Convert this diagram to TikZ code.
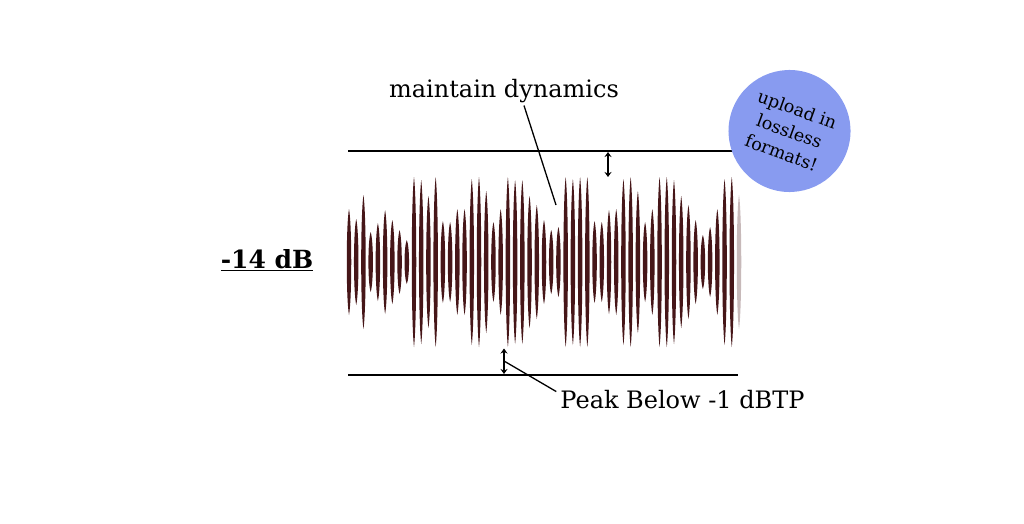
\documentclass[tikz,border=0pt]{standalone}
\usepackage{fontspec}
\setmainfont{DejaVu Serif}
\usetikzlibrary{arrows.meta}

\definecolor{wave}{RGB}{70,22,24}
\definecolor{bubble}{RGB}{136,155,240}

% one lens shaped peak of the waveform: x, half height
\newcommand{\wavespike}[2]{%
    \fill (#1,262-#2) .. controls (#1+3,262-0.7*#2) and (#1+3,262+0.7*#2) .. (#1,262+#2)
        .. controls (#1-3,262+0.7*#2) and (#1-3,262-0.7*#2) .. cycle;}

\begin{document}
\begin{tikzpicture}[x=1pt,y=-1pt]
    \useasboundingbox (0,0) rectangle (1024,524);
    \begin{scope}[every node/.style={inner sep=0pt}]
        \coordinate (tl) at (348,151);
        \coordinate (tr) at (740,151);
        \coordinate (bl) at (348,375);
        \coordinate (br) at (738,375);
        \coordinate (ta1) at (608,152);
        \coordinate (ta2) at (608,177);
        \coordinate (ba1) at (504,348.5);
        \coordinate (ba2) at (504,374);
        \coordinate (bmid) at (504,361);
        \coordinate (dynpt) at (556,205);
    \end{scope}
    % waveform
    \begin{scope}[fill=wave]
        \foreach \h [count=\i from 0] in {53,43,67,30,39,52,42,32,22,85,82,66,85,41,40,53,53,83,85,71,
            40,53,85,82,82,66,57,42,32,35,85,83,85,85,41,40,52,53,83,85,71,40,53,85,85,82,66,57,42,27,
            35,53,83,85}
            {\pgfmathsetmacro{\x}{349+7.222*\i}\wavespike{\x}{\h}}
        \begin{scope}[fill opacity=0.3]
            \wavespike{739}{67}
        \end{scope}
    \end{scope}
    \begin{scope}[line width=1.3pt,>={Stealth[length=5pt,width=7pt]}]
        \draw (tl) -- (tr);
        \draw (bl) -- (br);
        \draw [<->] (ta1) -- (ta2);
        \draw [<->] (ba1) -- (ba2);
    \end{scope}
    \begin{scope}[every node/.style={font=\fontsize{24}{28}\selectfont,inner sep=2pt}]
        \node[anchor=base] (dyn) at (504,98) {maintain dynamics};
        \node[anchor=base] (peak) at (682.5,408) {Peak Below -1 dBTP};
        \node[anchor=base,font=\fontsize{25}{28}\selectfont\bfseries] (level) at (267,268) {\underline{-14 dB}};
        \node[circle,fill=bubble,minimum size=122pt,inner sep=0pt,rotate=-20,align=center,
            font=\fontsize{17.5}{23}\selectfont] (lossless) at (789.5,131) {upload in\\lossless\\formats!};
    \end{scope}
    \draw[line width=1.3pt] ([xshift=20pt]dyn.south) -- (dynpt);
    \draw[line width=1.3pt] (bmid) -- ([xshift=-2pt,yshift=-4pt]peak.north west);
\end{tikzpicture}
\end{document}
